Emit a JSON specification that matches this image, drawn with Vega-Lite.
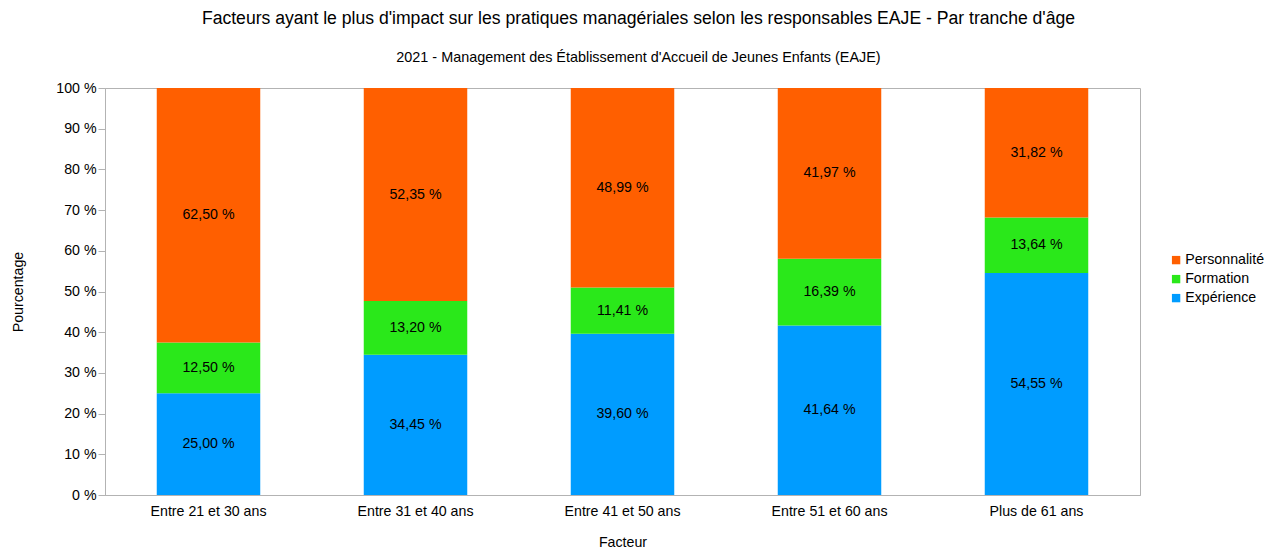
{
  "$schema": "https://vega.github.io/schema/vega-lite/v6.json",
  "width": 1035,
  "height": 407,
  "autosize": {"type": "none"},
  "padding": {"left": 105, "top": 88, "right": 136, "bottom": 57},
  "background": "white",
  "title": {
    "text": "Facteurs ayant le plus d'impact sur les pratiques managériales selon les responsables EAJE - Par tranche d'âge",
    "subtitle": "2021 - Management des Établissement d'Accueil de Jeunes Enfants (EAJE)",
    "anchor": "middle",
    "dx": 16,
    "fontSize": 17.6,
    "fontWeight": "normal",
    "subtitleFontSize": 14.4,
    "font": "Liberation Sans",
    "subtitleFont": "Liberation Sans",
    "color": "#000000",
    "subtitleColor": "#000000",
    "offset": 17,
    "subtitlePadding": 23
  },
  "data": {
    "values": [
      {"tranche": "Entre 21 et 30 ans", "facteur": "Expérience", "ordre": 1, "valeur": 25.00},
      {"tranche": "Entre 21 et 30 ans", "facteur": "Formation", "ordre": 2, "valeur": 12.50},
      {"tranche": "Entre 21 et 30 ans", "facteur": "Personnalité", "ordre": 3, "valeur": 62.50},
      {"tranche": "Entre 31 et 40 ans", "facteur": "Expérience", "ordre": 1, "valeur": 34.45},
      {"tranche": "Entre 31 et 40 ans", "facteur": "Formation", "ordre": 2, "valeur": 13.20},
      {"tranche": "Entre 31 et 40 ans", "facteur": "Personnalité", "ordre": 3, "valeur": 52.35},
      {"tranche": "Entre 41 et 50 ans", "facteur": "Expérience", "ordre": 1, "valeur": 39.60},
      {"tranche": "Entre 41 et 50 ans", "facteur": "Formation", "ordre": 2, "valeur": 11.41},
      {"tranche": "Entre 41 et 50 ans", "facteur": "Personnalité", "ordre": 3, "valeur": 48.99},
      {"tranche": "Entre 51 et 60 ans", "facteur": "Expérience", "ordre": 1, "valeur": 41.64},
      {"tranche": "Entre 51 et 60 ans", "facteur": "Formation", "ordre": 2, "valeur": 16.39},
      {"tranche": "Entre 51 et 60 ans", "facteur": "Personnalité", "ordre": 3, "valeur": 41.97},
      {"tranche": "Plus de 61 ans", "facteur": "Expérience", "ordre": 1, "valeur": 54.55},
      {"tranche": "Plus de 61 ans", "facteur": "Formation", "ordre": 2, "valeur": 13.64},
      {"tranche": "Plus de 61 ans", "facteur": "Personnalité", "ordre": 3, "valeur": 31.82}
    ]
  },
  "transform": [
    {"stack": "valeur", "groupby": ["tranche"], "sort": [{"field": "ordre", "order": "ascending"}], "as": ["y0", "y1"]},
    {"calculate": "(datum.y0 + datum.y1) / 2", "as": "ymid"},
    {"calculate": "replace(format(datum.valeur, '.2f'), '.', ',') + ' %'", "as": "etiquette"}
  ],
  "encoding": {
    "x": {
      "field": "tranche",
      "type": "nominal",
      "sort": null,
      "scale": {"paddingInner": 0.5, "paddingOuter": 0.25},
      "axis": {
        "title": "Facteur",
        "labelAngle": 0,
        "labelFontSize": 14.2,
        "labelFont": "Liberation Sans",
        "labelColor": "#000000",
        "titleFont": "Liberation Sans",
        "titleFontSize": 14.2,
        "titleFontWeight": "normal",
        "titleColor": "#000000",
        "domainColor": "#b3b3b3",
        "ticks": false,
        "labelPadding": 9,
        "titlePadding": 17
      }
    }
  },
  "layer": [
    {
      "mark": {"type": "bar"},
      "encoding": {
        "y": {
          "field": "y0",
          "type": "quantitative",
          "scale": {"domain": [0, 100], "nice": false},
          "axis": {
            "title": "Pourcentage",
            "values": [0, 10, 20, 30, 40, 50, 60, 70, 80, 90, 100],
            "labelExpr": "datum.value + '\u00a0%'",
            "labelFontSize": 14.2,
            "labelFont": "Liberation Sans",
            "labelColor": "#000000",
            "titleFont": "Liberation Sans",
            "titleFontSize": 14.2,
            "titleFontWeight": "normal",
            "titleColor": "#000000",
            "domainColor": "#b3b3b3",
            "tickColor": "#b3b3b3",
            "tickSize": 7,
            "labelPadding": 2,
            "titlePadding": 30,
            "grid": false
          }
        },
        "y2": {"field": "y1"},
        "color": {
          "field": "facteur",
          "type": "nominal",
          "scale": {
            "domain": ["Personnalité", "Formation", "Expérience"],
            "range": ["#ff5f00", "#2ae81a", "#009cff"]
          },
          "legend": {
            "title": null,
            "orient": "none",
            "legendX": 1064,
            "legendY": 165,
            "symbolType": "square",
            "symbolSize": 70,
            "symbolStrokeWidth": 0,
            "labelFontSize": 14.2,
            "labelFont": "Liberation Sans",
            "labelColor": "#000000",
            "rowPadding": 4,
            "labelOffset": 2
          }
        }
      }
    },
    {
      "mark": {"type": "text", "fontSize": 14.2, "font": "Liberation Sans", "color": "#000000"},
      "encoding": {
        "y": {"field": "ymid", "type": "quantitative"},
        "text": {"field": "etiquette"}
      }
    }
  ],
  "config": {
    "view": {"stroke": "#b3b3b3", "strokeWidth": 1}
  }
}
